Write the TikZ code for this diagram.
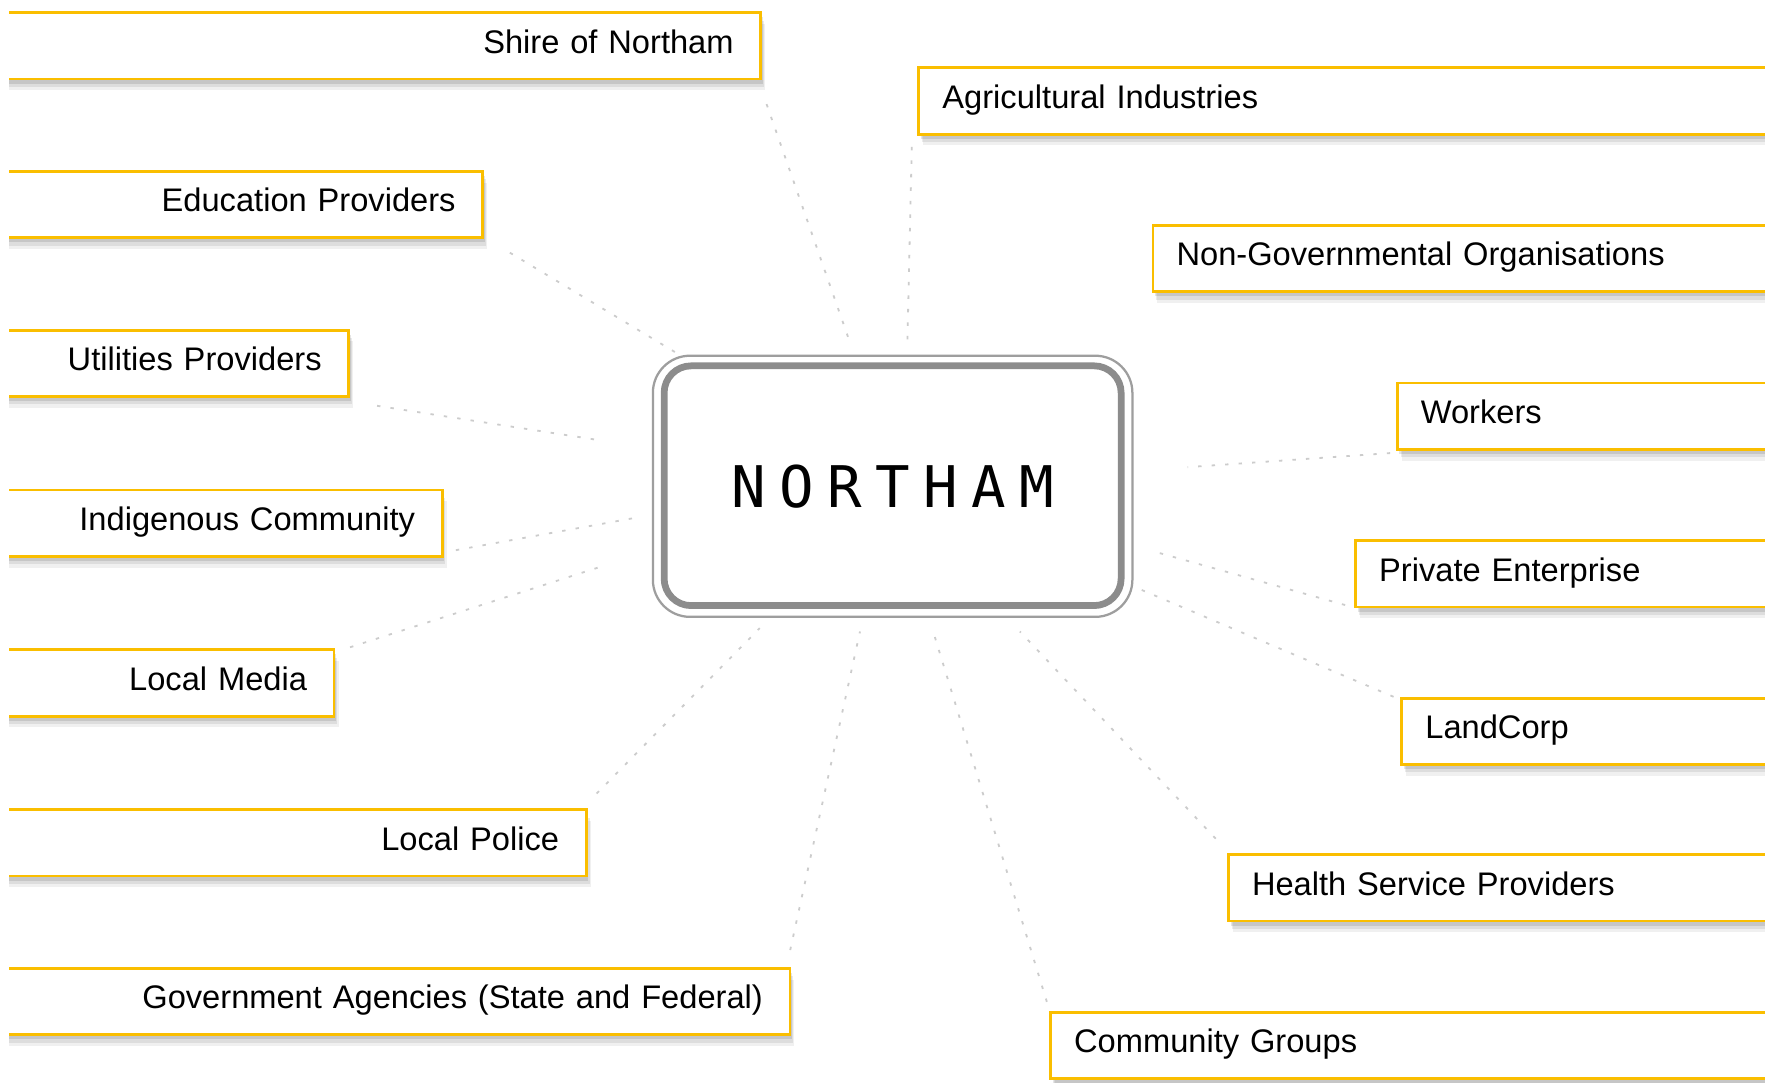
\documentclass[tikz,border=0pt]{standalone}
\usepackage{fontspec}
\setmainfont{Liberation Sans}
\newfontfamily\monof{DejaVu Sans Mono}
\usetikzlibrary{calc,shadows}
\definecolor{boxgold}{RGB}{250,190,0}
\tikzset{
  bx/.style={draw=boxgold, line width=2.5pt, fill=white, minimum height=59pt,
    inner ysep=0pt, font=\fontsize{29}{33}\selectfont, text=black,
    text height=20pt, text depth=7pt,
    drop shadow={shadow xshift=4pt, shadow yshift=-10pt, fill=black, opacity=0.06},
    drop shadow={shadow xshift=3pt, shadow yshift=-7pt, fill=black, opacity=0.08},
    drop shadow={shadow xshift=2pt, shadow yshift=-4pt, fill=black, opacity=0.10}},
  lbox/.style={bx, anchor=north east, align=right, inner xsep=24pt},
  rbox/.style={bx, anchor=north west, align=left, inner xsep=21pt},
  conn/.style={draw=black!20, line width=1.6pt, dash pattern=on 3pt off 9pt},
  hub/.style={draw=black!38, line width=2pt, rounded corners=33pt,
    minimum width=426pt, minimum height=232pt, inner sep=0pt, fill=white},
  hubinner/.style={draw=black!45, line width=6pt, rounded corners=24pt},
}
\begin{document}
\begin{tikzpicture}[x=1pt,y=-1pt]
\useasboundingbox[fill=white] (0,0) rectangle (1568,962);
\begin{scope}
\clip (8,0) rectangle (1568,962);
% left boxes
\node[lbox, text width=641pt] (shire) at (677,10) {Shire of Northam};
\node[lbox, text width=394pt] (edu) at (430,151) {Education Providers};
\node[lbox, text width=275pt] (util) at (311,292) {Utilities Providers};
\node[lbox, text width=358pt] (indig) at (394,434) {Indigenous Community};
\node[lbox, text width=262pt] (media) at (298,576) {Local Media};
\node[lbox, text width=486pt] (police) at (522,718) {Local Police};
\node[lbox, text width=667pt] (gov) at (703,859) {Government Agencies (State and Federal)};
% right boxes
\node[rbox, text width=743pt] (agri) at (815,59) {Agricultural Industries};
\node[rbox, text width=535pt] (ngo) at (1023,199) {Non-Governmental Organisations};
\node[rbox, text width=318pt] (workers) at (1240,339) {Workers};
\node[rbox, text width=355pt] (private) at (1203,479) {Private Enterprise};
\node[rbox, text width=314pt] (landcorp) at (1244,619) {LandCorp};
\node[rbox, text width=468pt] (health) at (1090,758) {Health Service Providers};
\node[rbox, text width=626pt] (comm) at (932,898) {Community Groups};
\end{scope}
% hub
\node[hub] (c) at (793,432) {{\monof\fontsize{51}{60}\selectfont N\kern12pt O\kern12pt R\kern12pt T\kern12pt H\kern12pt A\kern12pt M}};
\draw[hubinner] ($(c.north west)+(11,10)$) rectangle ($(c.south east)+(-11,-11)$);
% connectors
\draw[conn] ($(shire.south east)+(4,21)$) -- ($(c.north)+(-38,-11)$);
\draw[conn] ($(agri.south west)+(-5,10)$) -- ($(c.north)+(13,-6)$);
\draw[conn] ($(edu.south east)+(23,12)$) -- ($(c.north west)+(21,-2)$);
\draw[conn] ($(util.south east)+(24,7)$) -- ($(c.west)+(-47,-41)$);
\draw[conn] ($(indig.east)+(11,24)$) -- ($(c.west)+(-9,27)$);
\draw[conn] ($(media.north east)+(13,-1)$) -- ($(c.west)+(-47,72)$);
\draw[conn] ($(police.north east)+(8,-13)$) -- ($(c.south)+(-118,9)$);
\draw[conn] ($(gov.north east)+(-1,-15)$) -- ($(c.south)+(-29,12)$);
\draw[conn] ($(workers.south west)+(-5,2)$) -- ($(c.east)+(48,-17)$);
\draw[conn] ($(private.south west)+(-8,-3)$) -- ($(c.east)+(22,59)$);
\draw[conn] ($(landcorp.north west)+(-6,0)$) -- ($(c.east)+(7,92)$);
\draw[conn] ($(health.north west)+(-10,-13)$) -- ($(c.south)+(113,12)$);
\draw[conn] ($(comm.north west)+(-2,-8)$) -- ($(c.south)+(36,12)$);
\end{tikzpicture}
\end{document}
